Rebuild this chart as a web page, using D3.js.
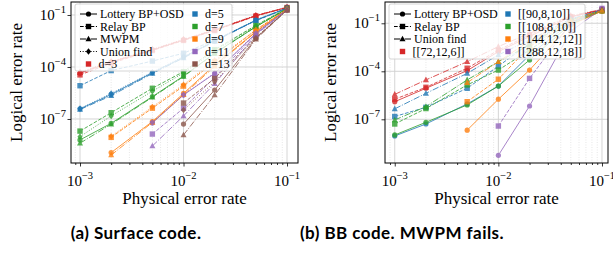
<!DOCTYPE html>
<html>
<head>
<meta charset="utf-8">
<script src="https://cdn.jsdelivr.net/npm/d3@7"></script>
<style>
  body { margin: 0; background: #fff; }
  text { font-family: "Liberation Serif", "Times New Roman", serif; fill: #000; }
  .cap { font-family: "Linux Biolinum O", "Lato", "Liberation Sans", sans-serif; font-weight: bold; letter-spacing: 0.45px; }
</style>
</head>
<body>
<svg id="chart" width="613" height="260"></svg>
<script>
// physical error rates (x values shared by both panels)
const pRates = [0.001, 0.002, 0.005, 0.01, 0.02, 0.05, 0.1];

// (a) surface code, one row per distance
const surfDistances = ["d=3", "d=5", "d=7", "d=9", "d=11", "d=13"];
const surfLottery = [
  [4.3e-5, 1.9e-4, 9.5e-4, 3.6e-3, 1.35e-2, 9.1e-2, 2.75e-1],
  [3.8e-7, 2.6e-6, 4.7e-5, 3.6e-4, 3.2e-3, 5.0e-2, 2.5e-1],
  [6.2e-9, 5.6e-8, 1.95e-6, 3.0e-5, 6.3e-4, 2.1e-2, 2.3e-1],
  [null, 1.15e-9, 7.1e-8, 3.0e-6, 1.3e-4, 1.1e-2, 2.2e-1],
  [null, null, 5.9e-8, 2.4e-6, 4.3e-5, 8.7e-3, 2.1e-1],
  [null, null, null, 5.1e-8, 4.7e-6, 4.5e-3, 1.95e-1]
];
const surfRelay = [
  [3.5e-5, 1.65e-4, 8.9e-4, 3.4e-3, 1.26e-2, 8.7e-2, 2.7e-1],
  [8.3e-6, 6.2e-5, 2.2e-4, 6.2e-4, 3.6e-3, 4.7e-2, 2.4e-1],
  [2.0e-8, 2.3e-7, 5.9e-6, 5.4e-5, 1.0e-3, 2.5e-2, 2.4e-1],
  [null, 8.7e-9, 4.2e-7, 7.9e-6, 2.0e-4, 1.35e-2, 2.25e-1],
  [null, null, 1.35e-8, 4.2e-7, 2.5e-5, 7.9e-3, 2.05e-1],
  [null, null, null, 8.3e-7, 2.2e-5, 5.0e-3, 2.0e-1]
];
const surfMWPM = [
  [4.7e-5, 2.0e-4, 1.0e-3, 3.8e-3, 1.38e-2, 9.3e-2, 2.75e-1],
  [3.5e-7, 2.2e-6, 4.2e-5, 3.3e-4, 3.0e-3, 4.9e-2, 2.5e-1],
  [4.0e-9, 5.0e-8, 1.8e-6, 2.8e-5, 6.0e-4, 2.1e-2, 2.3e-1],
  [null, 8.3e-10, 6.3e-8, 2.5e-6, 1.1e-4, 1.05e-2, 2.15e-1],
  [null, null, 2.75e-9, 1.5e-7, 1.1e-5, 7.1e-3, 2.0e-1],
  [null, null, null, 1.2e-8, 2.4e-6, 4.0e-3, 1.9e-1]
];
const surfUnionFind = [
  [5.0e-5, 2.1e-4, 1.05e-3, 4.0e-3, 1.45e-2, 9.5e-2, 2.8e-1],
  [4.0e-7, 3.0e-6, 5.0e-5, 4.0e-4, 3.4e-3, 5.2e-2, 2.6e-1],
  [9.5e-9, 1.5e-7, 4.0e-6, 4.5e-5, 8.3e-4, 2.35e-2, 2.35e-1],
  [null, 1.0e-8, 5.0e-7, 9.5e-6, 2.4e-4, 1.4e-2, 2.25e-1],
  [null, null, 6.3e-8, 2.5e-6, 4.5e-5, 8.9e-3, 2.1e-1],
  [null, null, null, 3.3e-7, 1.4e-5, 4.8e-3, 2.0e-1]
];

// (b) bivariate bicycle codes, one row per code
const bbCodes = ["[[72,12,6]]", "[[90,8,10]]", "[[108,8,10]]", "[[144,12,12]]", "[[288,12,18]]"];
const bbLottery = [
  [1.26e-6, 8.7e-6, 1.1e-4, 1.7e-3, 1.5e-2, 2.5e-1, 6.8e-1],
  [9.1e-9, 5.1e-8, 9.1e-7, 1.2e-5, 1.05e-3, 1.1e-1, 6.0e-1],
  [1.05e-8, 6.5e-8, 7.9e-7, 1.2e-5, 5.1e-4, 8.9e-2, 5.8e-1],
  [null, null, 2.1e-8, 1.8e-6, 1.2e-4, 7.9e-2, 5.8e-1],
  [null, null, null, 5.6e-10, 6.8e-7, 3.2e-2, 8.3e-1]
];
const bbRelay = [
  [1.8e-6, 1.0e-5, 1.55e-4, 2.1e-3, 1.9e-2, 2.6e-1, 6.9e-1],
  [1.5e-7, 5.6e-7, 8.7e-6, 2.1e-4, 5.6e-3, 1.6e-1, 6.3e-1],
  [5.1e-8, 4.7e-7, 1.4e-5, 1.2e-4, 2.1e-3, 1.26e-1, 6.0e-1],
  [null, null, 1.26e-6, 3.2e-5, 3.5e-3, 1.26e-1, 6.0e-1],
  [null, null, null, 3.8e-8, 3.6e-5, 1.0e-1, 8.5e-1]
];
const bbUnionFind = [
  [3.6e-6, 2.9e-5, 4.0e-4, 3.5e-3, 2.35e-2, 3.0e-1, 7.2e-1],
  [4.5e-7, 4.2e-6, 7.4e-5, 1.05e-3, 9.1e-3, 1.9e-1, 6.6e-1],
  [9.1e-8, 6.2e-7, 2.9e-5, 4.0e-4, 4.5e-3, 1.6e-1, 6.3e-1],
  [null, null, 1.95e-5, 4.0e-4, 7.9e-3, 1.6e-1, 6.3e-1],
  [null, null, null, null, null, null, null]
];

const xTicks = [1e-3, 1e-2, 1e-1];
const xTickExp = ["\u22123", "\u22122", "\u22121"];
const yTicks = [1e-1, 1e-4, 1e-7];
const yTickExp = ["\u22121", "\u22124", "\u22127"];

const palette = ["#d62728", "#1f77b4", "#2ca02c", "#ff7f0e", "#9467bd", "#8c564b"];
const dashes = { solid: null, dashed: "3.7,1.6", dashdot: "6.4,1.6,1,1.6", dotted: "1,1.65" };

const svg = d3.select("#chart");

function marker(sel, shape, cx, cy, color) {
  if (shape === "circle") {
    sel.append("circle").attr("cx", cx).attr("cy", cy).attr("r", 2.6).attr("fill", color);
  } else if (shape === "square") {
    sel.append("rect").attr("x", cx - 2.7).attr("y", cy - 2.7).attr("width", 5.4).attr("height", 5.4).attr("fill", color);
  } else if (shape === "triangle") {
    sel.append("path").attr("d", `M${cx},${cy - 3.3}L${cx + 3},${cy + 2.3}L${cx - 3},${cy + 2.3}Z`).attr("fill", color);
  } else {
    sel.append("path").attr("d", `M${cx},${cy - 3.2}L${cx + 2.6},${cy}L${cx},${cy + 3.2}L${cx - 2.6},${cy}Z`).attr("fill", color);
  }
}

function panel(o) {
  const g = svg.append("g");
  const x = d3.scaleLog().domain(o.xDom).range([o.left, o.right]);
  const y = d3.scaleLog().domain(o.yDom).range([o.bottom, o.top]);

  // grid
  const minor = x.ticks().filter(v => xTicks.indexOf(v) < 0);
  g.selectAll(".mg").data(minor).enter().append("line")
    .attr("x1", d => x(d)).attr("x2", d => x(d)).attr("y1", o.top).attr("y2", o.bottom)
    .attr("stroke", "#ddd").attr("stroke-width", 0.7).attr("stroke-dasharray", "1,1.5");
  g.selectAll(".gx").data(xTicks).enter().append("line")
    .attr("x1", d => x(d)).attr("x2", d => x(d)).attr("y1", o.top).attr("y2", o.bottom)
    .attr("stroke", "#d0d0d0").attr("stroke-width", 0.9);
  g.selectAll(".gy").data(yTicks).enter().append("line")
    .attr("y1", d => y(d)).attr("y2", d => y(d)).attr("x1", o.left).attr("x2", o.right)
    .attr("stroke", "#d0d0d0").attr("stroke-width", 0.9);

  // series
  o.decoders.forEach(dec => {
    dec.rows.forEach((row, i) => {
      const pts = pRates.map((p, j) => [p, row[j]]).filter(d => d[1] != null);
      if (!pts.length) return;
      const color = palette[i];
      const sg = g.append("g").attr("opacity", 0.8);
      sg.append("path")
        .attr("d", d3.line().x(d => x(d[0])).y(d => y(d[1]))(pts))
        .attr("fill", "none").attr("stroke", color).attr("stroke-width", 1)
        .attr("stroke-dasharray", dashes[dec.dash]);
      pts.forEach(d => marker(sg, dec.shape, x(d[0]), y(d[1]), color));
    });
  });

  // axes
  g.append("g").attr("transform", `translate(0,${o.bottom})`)
    .call(d3.axisBottom(x).tickValues(minor).tickSize(2).tickFormat(""))
    .call(a => a.select(".domain").remove());
  g.append("g").attr("transform", `translate(0,${o.bottom})`)
    .call(d3.axisBottom(x).tickValues(xTicks).tickSize(3.5).tickFormat(""))
    .call(a => a.select(".domain").remove());
  g.append("g").attr("transform", `translate(${o.left},0)`)
    .call(d3.axisLeft(y).tickValues(yTicks).tickSize(3.5).tickFormat(""))
    .call(a => a.select(".domain").remove());
  g.selectAll(".tick line").attr("stroke", "#000").attr("stroke-width", 0.8);
  g.append("rect").attr("x", o.left).attr("y", o.top)
    .attr("width", o.right - o.left).attr("height", o.bottom - o.top)
    .attr("fill", "none").attr("stroke", "#000").attr("stroke-width", 1);

  // tick labels
  xTicks.forEach((v, i) => {
    const t = g.append("text").attr("x", x(v)).attr("y", o.bottom + 23)
      .attr("text-anchor", "middle").style("font-size", "15px");
    t.append("tspan").text("10");
    t.append("tspan").attr("dy", -7).style("font-size", "10.5px").text(xTickExp[i]);
  });
  yTicks.forEach((v, i) => {
    const t = g.append("text").attr("x", o.left - 5).attr("y", y(v) + 5)
      .attr("text-anchor", "end").style("font-size", "15px");
    t.append("tspan").text("10");
    t.append("tspan").attr("dy", -7).style("font-size", "10.5px").text(yTickExp[i]);
  });

  // axis titles
  g.append("text").attr("x", (o.left + o.right) / 2).attr("y", 204)
    .attr("text-anchor", "middle").style("font-size", "17px").text("Physical error rate");
  g.append("text").attr("transform", `translate(${o.yLabelX},${(o.top + o.bottom) / 2}) rotate(-90)`)
    .attr("text-anchor", "middle").style("font-size", "17px").text("Logical error rate");

  // legend
  const L = o.legend;
  const lg = g.append("g");
  lg.append("rect").attr("x", L.x).attr("y", L.y).attr("width", L.w).attr("height", L.h)
    .attr("rx", 2).attr("fill", "#fff").attr("fill-opacity", 0.8)
    .attr("stroke", "#ccc").attr("stroke-width", 0.8);
  const rowY = i => L.y + 10 + i * 12.5;
  o.decoders.forEach((dec, i) => {
    const cy = rowY(i);
    lg.append("line").attr("x1", L.x + 5).attr("x2", L.x + 22).attr("y1", cy).attr("y2", cy)
      .attr("stroke", "#000").attr("stroke-width", 1).attr("stroke-dasharray", dashes[dec.dash]);
    marker(lg, dec.shape, L.x + 13.5, cy, "#000");
    lg.append("text").attr("x", L.x + 25).attr("y", cy + 4).style("font-size", "12px").text(dec.name);
  });
  o.categories.forEach((c, i) => {
    const col = i < 1 ? 0 : 1;
    const r = col === 0 ? o.decoders.length : i - 1;
    const cx = col === 0 ? L.x + 13.5 : L.x + L.col2;
    const cy = rowY(r);
    marker(lg, "square", cx, cy, palette[i]);
    lg.append("text").attr("x", cx + 10).attr("y", cy + 4).style("font-size", "12px").text(c);
  });

  // caption
  g.append("text").attr("class", "cap").attr("x", o.capX).attr("y", 239)
    .attr("text-anchor", "middle").style("font-size", "17px").text(o.caption);
}

panel({
  left: 71, right: 298, top: 2, bottom: 163,
  xDom: [Math.pow(10, -3.087), Math.pow(10, -0.894)],
  yDom: [Math.pow(10, -9.54), Math.pow(10, -0.25)],
  yLabelX: 22,
  decoders: [
    { name: "Lottery BP+OSD", rows: surfLottery, dash: "solid", shape: "circle" },
    { name: "Relay BP", rows: surfRelay, dash: "dashed", shape: "square" },
    { name: "MWPM", rows: surfMWPM, dash: "dashdot", shape: "triangle" },
    { name: "Union find", rows: surfUnionFind, dash: "dotted", shape: "diamond" }
  ],
  categories: surfDistances,
  legend: { x: 75, y: 4, w: 157, h: 67, col2: 120 },
  caption: "(a) Surface code.", capX: 136
});

panel({
  left: 385, right: 608, top: 2, bottom: 163,
  xDom: [Math.pow(10, -3.094), Math.pow(10, -0.942)],
  yDom: [Math.pow(10, -9.73), Math.pow(10, 0.33)],
  yLabelX: 336,
  decoders: [
    { name: "Lottery BP+OSD", rows: bbLottery, dash: "solid", shape: "circle" },
    { name: "Relay BP", rows: bbRelay, dash: "dashed", shape: "square" },
    { name: "Union find", rows: bbUnionFind, dash: "dashdot", shape: "triangle" }
  ],
  categories: bbCodes,
  legend: { x: 389, y: 4, w: 196, h: 55, col2: 119 },
  caption: "(b) BB code. MWPM fails.", capX: 402
});
</script>
</body>
</html>
